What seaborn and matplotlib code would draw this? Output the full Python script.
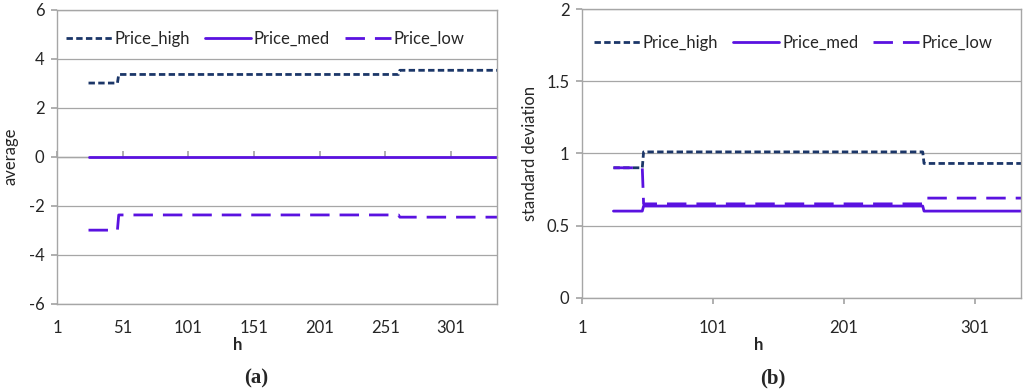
import matplotlib
matplotlib.use("Agg")
import matplotlib.pyplot as plt
import seaborn as sns
import pandas as pd

# ---- data ----
h_pts = [25, 47, 48, 261, 262, 336]
series_names = ["Price_high", "Price_med", "Price_low"]
avg_high = [3.0, 3.0, 3.35, 3.35, 3.52, 3.52]
avg_med = [0.0, 0.0, 0.0, 0.0, 0.0, 0.0]
avg_low = [-3.0, -3.0, -2.38, -2.38, -2.47, -2.47]
sd_high = [0.9, 0.9, 1.01, 1.01, 0.93, 0.93]
sd_med = [0.6, 0.6, 0.635, 0.635, 0.6, 0.6]
sd_low = [0.9, 0.9, 0.65, 0.65, 0.69, 0.69]
x_ticks_a = [1, 51, 101, 151, 201, 251, 301]
x_ticks_b = [1, 101, 201, 301]
y_ticks_a = [-6, -4, -2, 0, 2, 4, 6]
y_ticks_b = [0, 0.5, 1, 1.5, 2]
y_labels_b = ["0", "0.5", "1", "1.5", "2"]

sns.set_theme(style="white")
plt.rcParams["font.family"] = ["Lato", "DejaVu Sans"]

colors = {"Price_high": "#1B3668", "Price_med": "#5A12E0", "Price_low": "#5A12E0"}
dashes = {"Price_high": (2.3, 1.2), "Price_med": "", "Price_low": (7.0, 3.6)}


def long_df(vals):
    rows = []
    for name, v in zip(series_names, vals):
        for hh, yy in zip(h_pts, v):
            rows.append({"h": hh, "value": yy, "series": name})
    return pd.DataFrame(rows)


fig = plt.figure(figsize=(10.24, 3.92), dpi=100)
ax_a = fig.add_axes([57 / 1024, 1 - 303.7 / 392, 440 / 1024, (303.7 - 9.5) / 392])
ax_b = fig.add_axes([582 / 1024, 1 - 297.7 / 392, 439 / 1024, (297.7 - 9) / 392])

gridc = "#A6A6A6"
fs = 12


def style_ax(ax, ylim, yticks, ylabels, xticks, ylab, leg_anchor):
    ax.set_xlim(1, 336)
    ax.set_ylim(*ylim)
    ax.set_yticks(yticks)
    ax.set_yticklabels(ylabels, fontsize=fs)
    ax.set_xticks(xticks)
    ax.set_xticklabels([str(t) for t in xticks], fontsize=fs)
    ax.yaxis.grid(True, color=gridc, linewidth=0.9)
    ax.xaxis.grid(False)
    ax.set_axisbelow(True)
    for s in ax.spines.values():
        s.set_color(gridc)
        s.set_linewidth(1.0)
    ax.tick_params(axis="y", direction="out", length=4, color=gridc, left=True, pad=5)
    ax.tick_params(axis="x", direction="out", length=4, color=gridc, bottom=True, pad=12)
    ax.set_ylabel(ylab, fontsize=fs)
    ax.set_xlabel("h", fontsize=fs, fontweight="bold", labelpad=0)
    handles, labels = ax.get_legend_handles_labels()
    ax.legend(handles, labels, ncol=3, loc="center left", bbox_to_anchor=leg_anchor,
              frameon=False, fontsize=fs, handlelength=2.75, handletextpad=0.18,
              columnspacing=0.9, borderpad=0, borderaxespad=0)


for ax, vals in [(ax_a, [avg_high, avg_med, avg_low]), (ax_b, [sd_high, sd_med, sd_low])]:
    df = long_df(vals)
    sns.lineplot(data=df, x="h", y="value", hue="series", style="series",
                 palette=colors, dashes=dashes, hue_order=series_names,
                 style_order=series_names, estimator=None, sort=False,
                 linewidth=2.0, ax=ax)

style_ax(ax_a, (-6, 6), y_ticks_a, [str(t) for t in y_ticks_a], x_ticks_a, "average",
         (0.02, (303.7 - 39) / 294.2))
style_ax(ax_b, (0, 2), y_ticks_b, y_labels_b, x_ticks_b, "standard deviation",
         (0.027, (297.7 - 43) / 288.7))
ax_a.yaxis.set_label_coords(-0.088, 0.5)
ax_b.yaxis.set_label_coords(-0.1, 0.5)
ax_a.xaxis.set_label_coords(0.41, (303.7 - 337) / 294.2)
ax_b.xaxis.set_label_coords(0.403, (297.7 - 337) / 288.7)

# panel (a): Excel draws the category axis at y=0 with tick marks, labels at bottom
ax_a.tick_params(axis="x", length=0)
sec = ax_a.secondary_xaxis(0.5)
sec.set_xticks(x_ticks_a)
sec.set_xticklabels([])
sec.tick_params(axis="x", direction="out", length=4, color=gridc)
for s in sec.spines.values():
    s.set_color(gridc)
    s.set_linewidth(1.0)

fig.text(256 / 1024, 1 - 378 / 392, "(a)", ha="center", va="center",
         fontsize=15, fontweight="bold", family=["Liberation Serif", "DejaVu Serif"])
fig.text(773 / 1024, 1 - 378 / 392, "(b)", ha="center", va="center",
         fontsize=15, fontweight="bold", family=["Liberation Serif", "DejaVu Serif"])

fig.savefig("out.png", dpi=100)
